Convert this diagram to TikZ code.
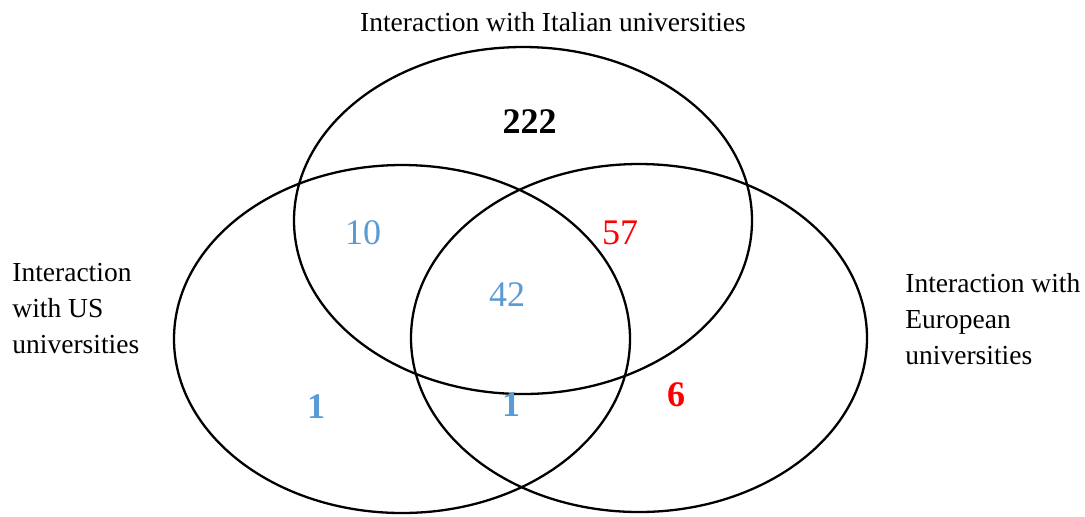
\documentclass[tikz,border=0pt]{standalone}
\usepackage{fontspec}
\setmainfont{Liberation Serif}
\usepackage{tikz}
\usetikzlibrary{positioning}

\definecolor{numblue}{RGB}{91,155,213}
\definecolor{numred}{RGB}{255,0,0}

\begin{document}
\begin{tikzpicture}[x=0.5pt, y=-0.5pt, every node/.style={inner sep=0pt, font=\fontsize{13.75}{18}\selectfont}, set/.style={draw, line width=1.15pt}, lbl/.style={anchor=north west, align=left}, num/.style={font=\fontsize{18}{20}\selectfont}, bnum/.style={font=\fontsize{18}{20}\selectfont\bfseries}]

                \useasboundingbox (0,0) rectangle (1085,516);

                % the three sets
                \draw[set] (523,220.5) ellipse [x radius=229, y radius=173.5];
                \draw[set] (402,339) ellipse [x radius=228, y radius=174];
                \draw[set] (639,338) ellipse [x radius=228, y radius=174];

                \node (ita) at (553,22) {Interaction with Italian universities};
                \node[lbl] (us)  at (12,263)  {Interaction\\with US\\universities};
                \node[lbl] (eu)  at (905,273) {Interaction with\\European\\universities};

                % counts
                \node[bnum] (nita)   at (529.5,121.5) {222};
                \node[num, numblue] (nitaus) at (363,233) {10};
                \node[num, numred]  (nitaeu) at (620,233) {57};
                \node[num, numblue] (nall)   at (507,295) {42};
                \node[bnum, numblue] (nus)   at (316,407) {1};
                \node[bnum, numblue] (nuseu) at (511,405) {1};
                \node[bnum, numred]  (neu)   at (676,395) {6};
            \end{tikzpicture}
\end{document}
